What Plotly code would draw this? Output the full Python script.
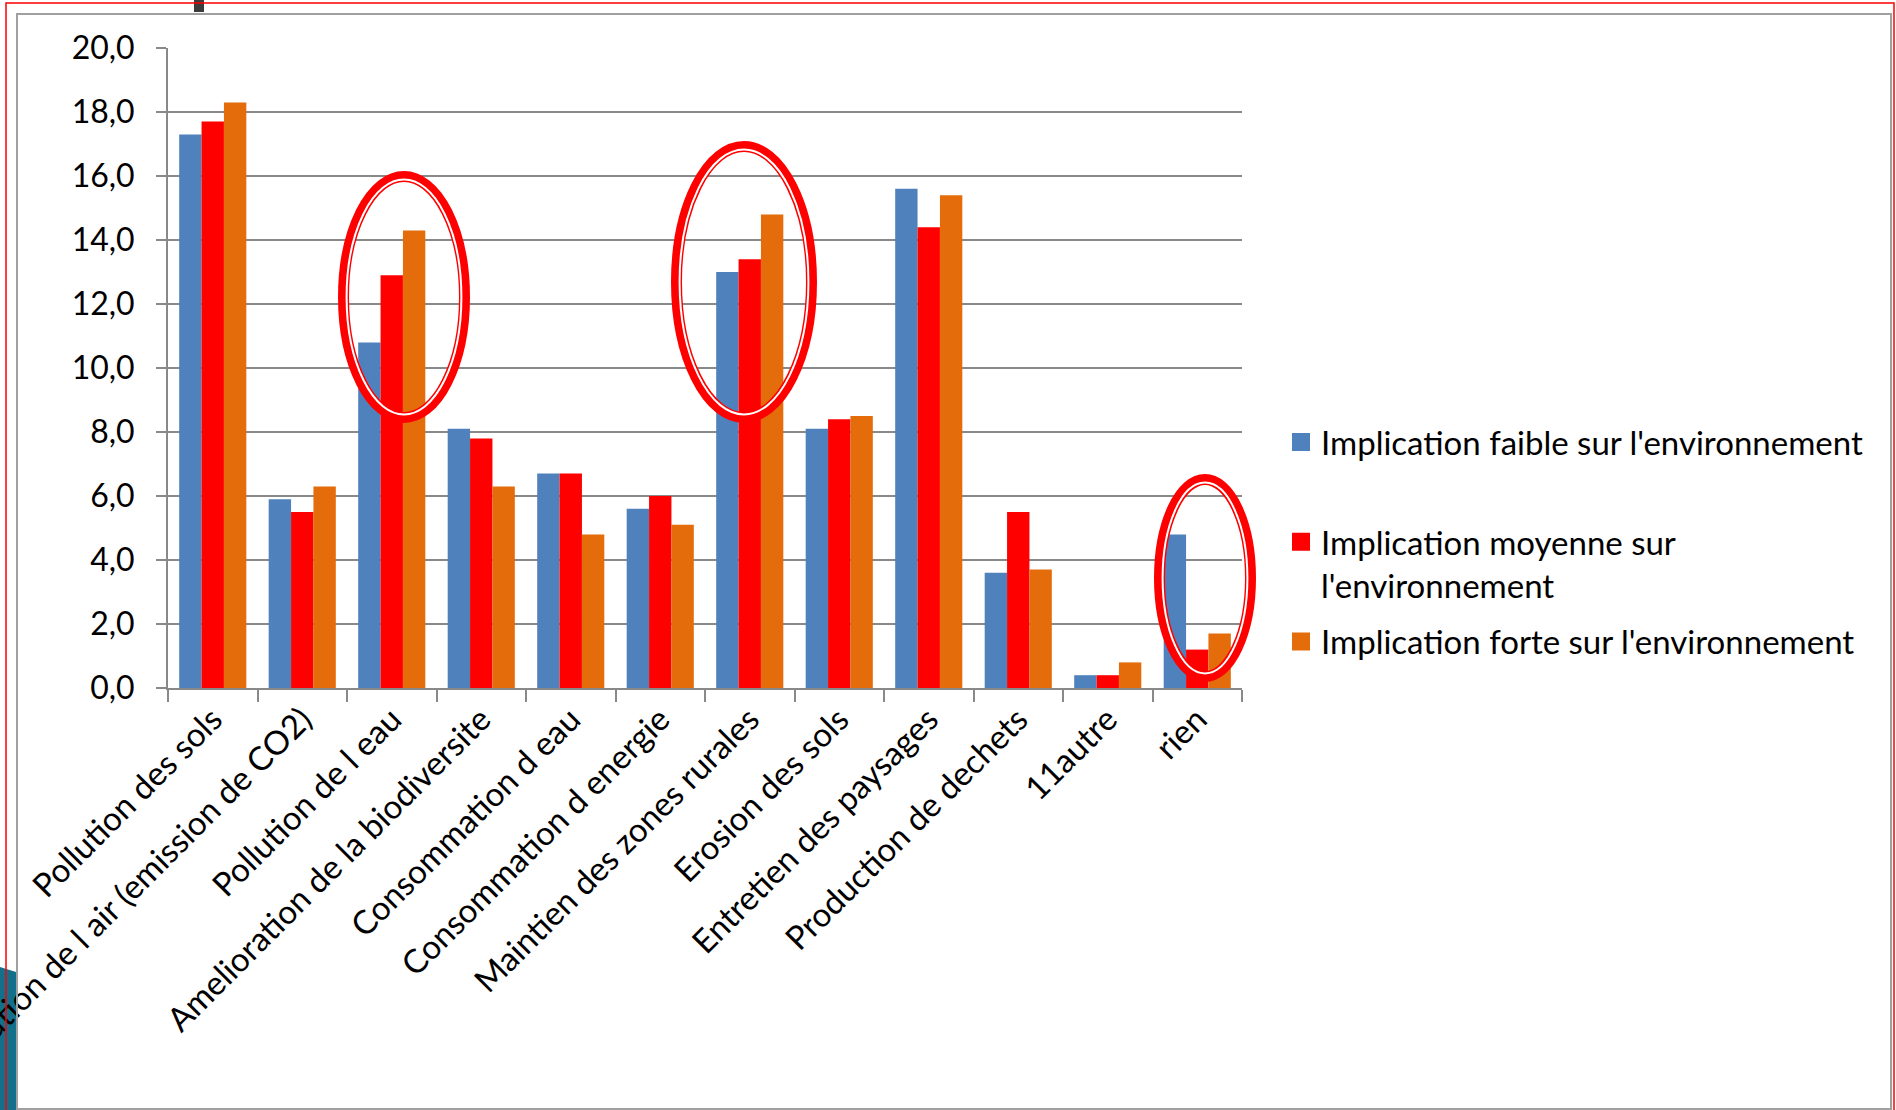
import plotly.graph_objects as go

categories = [
    "Pollution des sols",
    "Pollution de l air (emission de CO2)",
    "Pollution de l eau",
    "Amelioration de la biodiversite",
    "Consommation d eau",
    "Consommation d energie",
    "Maintien des zones rurales",
    "Erosion des sols",
    "Entretien des paysages",
    "Production de dechets",
    "11autre",
    "rien",
]
faible = [17.3, 5.9, 10.8, 8.1, 6.7, 5.6, 13.0, 8.1, 15.6, 3.6, 0.4, 4.8]
moyenne = [17.7, 5.5, 12.9, 7.8, 6.7, 6.0, 13.4, 8.4, 14.4, 5.5, 0.4, 1.2]
forte = [18.3, 6.3, 14.3, 6.3, 4.8, 5.1, 14.8, 8.5, 15.4, 3.7, 0.8, 1.7]

series_names = [
    "Implication faible sur l'environnement",
    "Implication moyenne sur l'environnement",
    "Implication forte sur l'environnement",
]
legend_labels = [
    "Implication faible sur l'environnement<br>\u00a0",
    "Implication moyenne sur<br>l'environnement",
    "Implication forte sur l'environnement",
]
colors = ["#4F81BD", "#FF0000", "#E46C0A"]

W, H = 1896, 1110
L, R, T, B = 168, 1242, 48, 688
FONT = "Lato"
FS = 33
GRAY = "#898989"


def X(px):
    return (px - L) / (R - L)


def Y(py):
    return (B - py) / (B - T)


fig = go.Figure()
for name, vals, col in zip(series_names, [faible, moyenne, forte], colors):
    fig.add_trace(go.Bar(x=categories, y=vals, name=name, marker_color=col,
                         marker_line_width=0, showlegend=False))
for i, (lab, col) in enumerate(zip(legend_labels, colors)):
    fig.add_trace(go.Scatter(x=[None], y=[None], mode="markers", name=lab,
                             legendgroup=f"g{i}",
                             marker=dict(symbol="square", size=20, color=col,
                                         line=dict(color=col, width=2)),
                             showlegend=True))

shapes = []
# teal decoration bottom-left
shapes.append(dict(type="path", xref="paper", yref="paper",
                   path=f"M {X(0)},{Y(967)} L {X(16)},{Y(972)} L {X(16)},{Y(1112)} L {X(0)},{Y(1112)} Z",
                   fillcolor="#12708A", line=dict(width=0), layer="below"))
# dark small bar at top
shapes.append(dict(type="rect", xref="paper", yref="paper",
                   x0=X(194), x1=X(204), y0=Y(0), y1=Y(12),
                   fillcolor="#3C3C3C", line=dict(width=0)))
# gray inner frame
shapes.append(dict(type="rect", xref="paper", yref="paper",
                   x0=X(17), x1=X(1891), y0=Y(14), y1=Y(1109),
                   line=dict(color="#A0A0A0", width=2)))
# red outer frame
shapes.append(dict(type="rect", xref="paper", yref="paper",
                   x0=X(6), x1=X(1894), y0=Y(3), y1=Y(1115),
                   line=dict(color="#FF0000", width=1.5)))

# red double ellipses (annotation highlights)
ellipses = [(338, 470, 171, 423), (671, 817, 141, 423), (1154, 1256, 474, 682)]
for x0, x1, y0, y1 in ellipses:
    inset = 5.5
    shapes.append(dict(type="circle", xref="paper", yref="paper",
                       x0=X(x0 + inset), x1=X(x1 - inset), y0=Y(y0 + inset), y1=Y(y1 - inset),
                       line=dict(color="#FF0000", width=11), layer="above"))
    inset = 8.6
    shapes.append(dict(type="circle", xref="paper", yref="paper",
                       x0=X(x0 + inset), x1=X(x1 - inset), y0=Y(y0 + inset), y1=Y(y1 - inset),
                       line=dict(color="#FFFFFF", width=2), layer="above"))

fig.update_layout(
    width=W, height=H, autosize=False,
    margin=dict(l=L, r=W - R, t=T, b=H - B, pad=0, autoexpand=False),
    paper_bgcolor="white", plot_bgcolor="white",
    separators=",.",
    barmode="group", bargap=0.25, bargroupgap=0,
    font=dict(family=FONT, size=FS, color="black"),
    shapes=shapes,
    legend=dict(x=X(1281), y=Y(414), xanchor="left", yanchor="top",
                valign="top", font=dict(family=FONT, size=FS, color="black"),
                bgcolor="rgba(0,0,0,0)", tracegroupgap=11),
    xaxis=dict(type="category", tickangle=-45, tickson="boundaries",
               ticks="outside", ticklen=12, tickwidth=2, tickcolor=GRAY,
               showline=True, linecolor=GRAY, linewidth=2, showgrid=False,
               automargin=False, ticklabelstandoff=-3,
               tickfont=dict(family=FONT, size=FS, color="black"),
               range=[-0.5, 11.5], fixedrange=True),
    yaxis=dict(range=[0, 20], tick0=0, dtick=2, tickformat=".1f",
               ticks="outside", ticklen=10, tickwidth=2, tickcolor=GRAY,
               showline=True, linecolor=GRAY, linewidth=2,
               showgrid=True, gridcolor=GRAY, gridwidth=2, zeroline=False,
               ticklabelstandoff=15, automargin=False,
               tickfont=dict(family=FONT, size=32, color="black"),
               fixedrange=True),
)

fig.write_html("out.html", config={"displayModeBar": False},
               post_script="document.body.style.margin='0px';")
